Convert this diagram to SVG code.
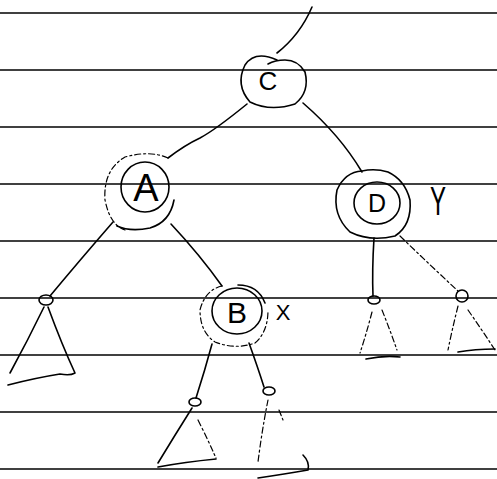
<svg xmlns="http://www.w3.org/2000/svg" width="497" height="479" viewBox="0 0 497 479">
<style>
.rule{stroke:#000;stroke-width:1.6;fill:none}
.ink{stroke:#000;stroke-width:1.6;fill:none;stroke-linecap:round;stroke-linejoin:round}
.faint{stroke:#000;stroke-width:1.2;fill:none;stroke-dasharray:6 3 2 3;stroke-linecap:round}
.lbl{font-family:"Liberation Sans",Arial,sans-serif;fill:#000;text-anchor:middle}
</style>
<rect width="497" height="479" fill="#fff"/>
<g id="ruled-lines">
<line class="rule" x1="0" y1="13" x2="497" y2="13"/>
<line class="rule" x1="0" y1="70" x2="497" y2="70"/>
<line class="rule" x1="0" y1="127" x2="497" y2="127"/>
<line class="rule" x1="0" y1="184" x2="497" y2="184"/>
<line class="rule" x1="0" y1="241" x2="497" y2="241"/>
<line class="rule" x1="0" y1="298" x2="497" y2="298"/>
<line class="rule" x1="0" y1="355" x2="497" y2="355"/>
<line class="rule" x1="0" y1="412" x2="497" y2="412"/>
<line class="rule" x1="0" y1="469" x2="497" y2="469"/>
</g>
<g id="connectors">
<path class="ink" d="M312,7 Q300,35 277,53"/>
<path class="ink" d="M247,104 Q215,130 200,138 Q185,145 168,158"/>
<path class="ink" d="M303,103 Q340,135 362,172"/>
<path class="ink" d="M113,222 Q80,260 50,296"/>
<path class="ink" d="M171,224 Q200,255 222,286"/>
<path class="ink" d="M374,238 Q372,270 373,296"/>
<path class="faint" d="M400,236 Q430,265 458,291"/>
<path class="ink" d="M212,344 Q205,370 196,398"/>
<path class="ink" d="M249,343 Q258,368 264,387"/>
</g>
<g id="node-C">
<path class="ink" d="M277,60 Q255,50 245,65 Q235,85 250,102 Q270,112 295,104 Q310,92 305,72 Q298,60 285,60 Q275,60 268,64"/>
<text class="lbl" x="268" y="90" font-size="26">C</text>
</g>
<g id="node-A">
<path class="faint" d="M168,158 Q150,150 125,157 Q103,170 105,200 Q110,225 125,230"/>
<path class="ink" d="M117,226 Q130,232 150,228 Q170,222 174,200"/>
<ellipse class="ink" cx="145" cy="187" rx="24" ry="25"/>
<text class="lbl" x="146" y="201" font-size="38">A</text>
</g>
<g id="node-D">
<path class="ink" d="M362,171 Q345,172 337,190 Q332,215 350,232 Q370,242 395,236 Q412,225 410,200 Q405,180 388,172 Q375,168 362,171"/>
<ellipse class="ink" cx="377" cy="203" rx="23" ry="21"/>
<text class="lbl" x="377" y="212" font-size="25">D</text>
<text class="lbl" x="438" y="215" font-size="40" transform="translate(438 0) scale(0.6 1) translate(-438 0)">Y</text>
</g>
<g id="node-B">
<path class="faint" d="M222,286 Q205,290 200,310 Q200,332 215,342 Q235,350 255,343 Q268,332 268,310"/>
<path class="ink" d="M265,303 Q258,285 238,285"/>
<ellipse class="ink" cx="237" cy="311" rx="25" ry="23"/>
<text class="lbl" x="237" y="323" font-size="30">B</text>
<text class="lbl" x="283" y="320" font-size="22">X</text>
</g>
<g id="leaf-A-left">
<ellipse class="ink" cx="46" cy="300" rx="7" ry="5" stroke-width="2.5"/>
<path class="ink" d="M44,307 Q28,340 10,373"/>
<path class="ink" d="M48,307 Q62,345 75,373 Q70,376 60,374 Q35,378 8,385"/>
</g>
<g id="leaf-D-left">
<ellipse class="ink" cx="374" cy="300" rx="6" ry="4" stroke-width="2.5"/>
<path class="faint" d="M372,312 Q366,335 360,353"/>
<path class="faint" d="M382,310 Q390,330 397,350"/>
<path class="ink" d="M366,359 Q385,355 400,357"/>
</g>
<g id="leaf-D-right">
<ellipse class="ink" cx="462" cy="296" rx="6" ry="6" stroke-width="2.5"/>
<path class="faint" d="M458,306 Q452,330 448,350"/>
<path class="faint" d="M468,310 Q482,330 495,350"/>
<path class="ink" d="M458,352 Q475,349 495,349"/>
</g>
<g id="leaf-B-left">
<ellipse class="ink" cx="195" cy="402" rx="6" ry="4" stroke-width="2.5"/>
<path class="ink" d="M192,408 Q175,435 158,463"/>
<path class="faint" d="M198,420 Q208,440 216,458"/>
<path class="ink" d="M158,467 Q185,462 216,459"/>
</g>
<g id="leaf-B-right">
<ellipse class="ink" cx="269" cy="391" rx="6" ry="4" stroke-width="2.5"/>
<path class="faint" d="M268,400 Q262,430 258,462"/>
<path class="faint" d="M279,410 Q281,415 283,420"/>
<path class="ink" d="M303,455 Q310,462 308,470 Q285,474 258,478"/>
</g>
</svg>
